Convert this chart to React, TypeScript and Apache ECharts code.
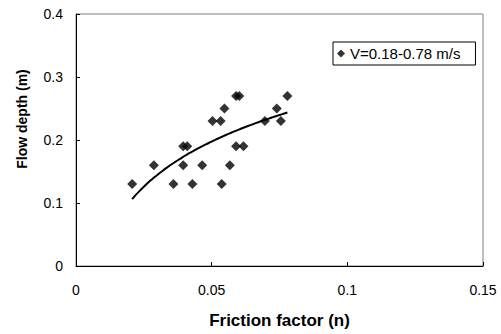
import React, { useEffect, useRef } from "react";
import * as echarts from "echarts";

const frictionFactor = [
  0.0207, 0.0287, 0.0359, 0.0429, 0.0395, 0.0395, 0.041, 0.0465, 0.0503, 0.0533, 0.0537,
  0.0567, 0.0547, 0.059, 0.0602, 0.059, 0.0617, 0.0696, 0.074, 0.0755, 0.0779,
];
const flowDepth = [
  0.13, 0.16, 0.13, 0.13, 0.16, 0.19, 0.19, 0.16, 0.23, 0.23, 0.13,
  0.16, 0.25, 0.27, 0.27, 0.19, 0.19, 0.23, 0.25, 0.23, 0.27,
];
const seriesName = "V=0.18-0.78 m/s";
const xTicks = [0, 0.05, 0.1, 0.15];
const yTicks = [0, 0.1, 0.2, 0.3, 0.4];

// logarithmic trendline fitted to the data (least squares on ln n)
function logFit(xs: number[], ys: number[]) {
  const n = xs.length;
  const lx = xs.map((v) => Math.log(v));
  const mx = lx.reduce((a, b) => a + b, 0) / n;
  const my = ys.reduce((a, b) => a + b, 0) / n;
  let sxy = 0, sxx = 0;
  for (let i = 0; i < n; i++) {
    sxy += (lx[i] - mx) * (ys[i] - my);
    sxx += (lx[i] - mx) * (lx[i] - mx);
  }
  const b = sxy / sxx;
  const a = my - b * mx;
  const xmin = Math.min(...xs), xmax = Math.max(...xs);
  const pts: number[][] = [];
  const steps = 40;
  for (let i = 0; i <= steps; i++) {
    const x = xmin + ((xmax - xmin) * i) / steps;
    pts.push([x, a + b * Math.log(x)]);
  }
  return pts;
}

export default function App() {
  const ref = useRef<HTMLDivElement>(null);
  useEffect(() => {
    if (!ref.current) return;
    const chart = echarts.init(ref.current, undefined, { renderer: "svg" });
    const font = "'Liberation Sans', Arial, sans-serif";
    chart.setOption({
      animation: false,
      textStyle: { fontFamily: font },
      grid: {
        left: 76, right: 18, top: 14, bottom: 67,
        show: true, borderColor: "#808080", borderWidth: 1, backgroundColor: "#fff",
      },
      legend: {
        data: [seriesName],
        left: 333, top: 42,
        borderColor: "#000", borderWidth: 1, borderRadius: 0,
        padding: [4, 15, 4, 4],
        itemWidth: 8, itemHeight: 8, itemGap: 4,
        textStyle: { fontFamily: font, fontSize: 15, color: "#000" },
      },
      xAxis: {
        type: "value", min: xTicks[0], max: xTicks[xTicks.length - 1], interval: 0.05,
        name: "Friction factor (n)", nameLocation: "middle", nameGap: 46,
        nameTextStyle: { fontFamily: font, fontSize: 17, fontWeight: "bold", color: "#000" },
        axisLine: { lineStyle: { color: "#000", width: 1 } },
        axisTick: { inside: true, length: 4, lineStyle: { color: "#000" } },
        axisLabel: { fontSize: 14, color: "#000", margin: 17, fontFamily: font },
        splitLine: { show: false },
      },
      yAxis: {
        type: "value", min: yTicks[0], max: yTicks[yTicks.length - 1], interval: 0.1,
        name: "Flow depth (m)", nameLocation: "middle", nameGap: 47,
        nameTextStyle: {
          fontFamily: font, fontSize: 14, fontWeight: "bold", color: "#000",
          padding: [0, 0, 0, 42],
        },
        axisLine: { show: true, lineStyle: { color: "#000", width: 1 } },
        axisTick: { show: true, inside: true, length: 4, lineStyle: { color: "#000" } },
        axisLabel: { fontSize: 14, color: "#000", margin: 13, fontFamily: font },
        splitLine: { show: false },
      },
      series: [
        {
          name: seriesName,
          type: "scatter",
          symbol: "diamond",
          symbolSize: 10,
          itemStyle: { color: "#000" },
          data: frictionFactor.map((x, i) => [x, flowDepth[i]]),
          z: 3,
        },
        {
          name: "trend",
          type: "line",
          showSymbol: false,
          symbol: "none",
          smooth: true,
          lineStyle: { color: "#000", width: 2 },
          data: logFit(frictionFactor, flowDepth),
          z: 2,
        },
      ],
    });
    return () => chart.dispose();
  }, []);
  return <div ref={ref} style={{ width: 501, height: 334, position: "absolute", left: 0, top: 0 }} />;
}
